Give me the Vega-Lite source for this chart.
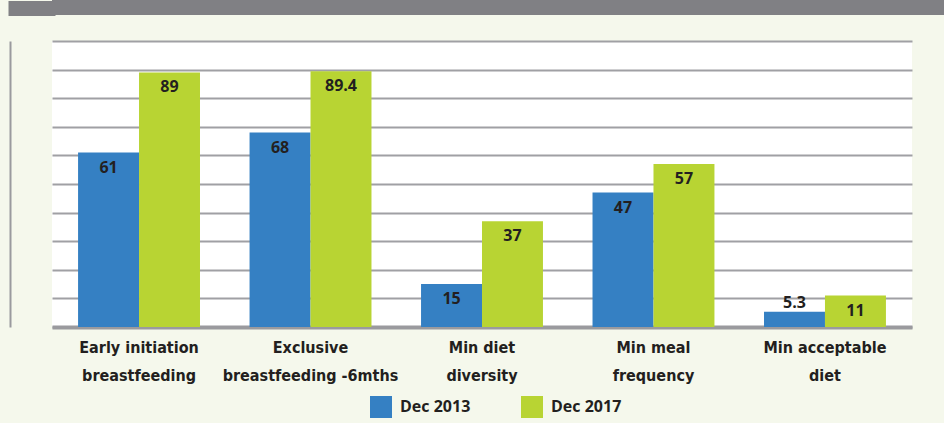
{
  "$schema": "https://vega.github.io/schema/vega-lite/v6.json",
  "background": "#f5f8ec",
  "padding": {"left": 0, "top": 0, "right": 0, "bottom": 40},
  "spacing": 25,
  "config": {
    "view": {"stroke": null},
    "font": "Open Sans"
  },
  "datasets": {
    "bars": [
      {"category": "Early initiation\nbreastfeeding", "period": "Dec 2013", "value": 61},
      {"category": "Early initiation\nbreastfeeding", "period": "Dec 2017", "value": 89},
      {"category": "Exclusive\nbreastfeeding -6mths", "period": "Dec 2013", "value": 68},
      {"category": "Exclusive\nbreastfeeding -6mths", "period": "Dec 2017", "value": 89.4},
      {"category": "Min diet\ndiversity", "period": "Dec 2013", "value": 15},
      {"category": "Min diet\ndiversity", "period": "Dec 2017", "value": 37},
      {"category": "Min meal\nfrequency", "period": "Dec 2013", "value": 47},
      {"category": "Min meal\nfrequency", "period": "Dec 2017", "value": 57},
      {"category": "Min acceptable\ndiet", "period": "Dec 2013", "value": 5.3},
      {"category": "Min acceptable\ndiet", "period": "Dec 2017", "value": 11}
    ]
  },
  "vconcat": [
    {
      "width": 892,
      "height": 15,
      "view": {"fill": "#808084", "stroke": null},
      "data": {"values": [{"t": "", "v": 0.5}]},
      "mark": {"type": "text"},
      "encoding": {
        "text": {"field": "t"},
        "y": {
          "field": "v",
          "type": "quantitative",
          "scale": {"domain": [0, 1]},
          "axis": {
            "title": null,
            "labels": false,
            "domain": false,
            "grid": false,
            "ticks": true,
            "values": [0.5],
            "offset": -3,
            "tickSize": 47,
            "tickWidth": 15,
            "tickColor": "#808084",
            "tickCap": "butt",
            "minExtent": 10,
            "maxExtent": 10
          }
        }
      }
    },
    {
      "width": 860,
      "height": 286,
      "data": {"name": "bars"},
      "view": {"fill": "#ffffff", "stroke": null},
      "encoding": {
        "x": {
          "field": "category",
          "type": "nominal",
          "sort": null,
          "scale": {"paddingInner": 0.289, "paddingOuter": 0.152},
          "axis": {
            "title": null,
            "labelAngle": 0,
            "ticks": false,
            "domainColor": "#9a9a9e",
            "domainWidth": 4,
            "labelPadding": 12,
            "labelLimit": 400,
            "labelExpr": "split(datum.value, '\\n')",
            "labelFont": "Liberation Sans Narrow, DejaVu Sans Condensed, sans-serif",
            "labelFontWeight": "bold",
            "labelFontSize": 16,
            "labelLineHeight": 28,
            "labelColor": "#231f20",
            "labelBaseline": "top"
          }
        },
        "xOffset": {"field": "period", "type": "nominal"},
        "y": {
          "field": "value",
          "type": "quantitative",
          "scale": {"domain": [0, 100]},
          "axis": {
            "title": null,
            "labels": false,
            "ticks": false,
            "domain": true,
            "domainColor": "#9a9a9e",
            "domainWidth": 2,
            "offset": 42,
            "values": [0, 10, 20, 30, 40, 50, 60, 70, 80, 90, 100],
            "grid": true,
            "gridColor": "#a0a0a4",
            "gridWidth": 2,
            "minExtent": 10,
            "maxExtent": 10
          }
        }
      },
      "layer": [
        {
          "mark": {"type": "bar"},
          "encoding": {
            "color": {
              "field": "period",
              "type": "nominal",
              "scale": {"domain": ["Dec 2013", "Dec 2017"], "range": ["#3580c3", "#b8d433"]},
              "legend": {
                "title": null,
                "orient": "none",
                "legendX": 318,
                "legendY": 396,
                "direction": "horizontal",
                "columns": 2,
                "columnPadding": 50,
                "symbolType": "square",
                "symbolSize": 484,
                "symbolStrokeWidth": 0,
                "labelFont": "Open Sans",
                "labelFontWeight": "bold",
                "labelFontSize": 16,
                "labelColor": "#231f20",
                "labelOffset": 8
              }
            }
          }
        },
        {
          "transform": [{"filter": "datum.value >= 10"}],
          "mark": {"type": "text", "baseline": "top", "dy": 7, "fontWeight": "bold", "fontSize": 16, "color": "#231f20", "font": "Open Sans"},
          "encoding": {"text": {"field": "value", "type": "quantitative"}}
        },
        {
          "transform": [{"filter": "datum.value < 10"}],
          "mark": {"type": "text", "baseline": "bottom", "dy": -1, "fontWeight": "bold", "fontSize": 16, "color": "#231f20", "font": "Open Sans"},
          "encoding": {"text": {"field": "value", "type": "quantitative"}}
        }
      ]
    }
  ]
}
